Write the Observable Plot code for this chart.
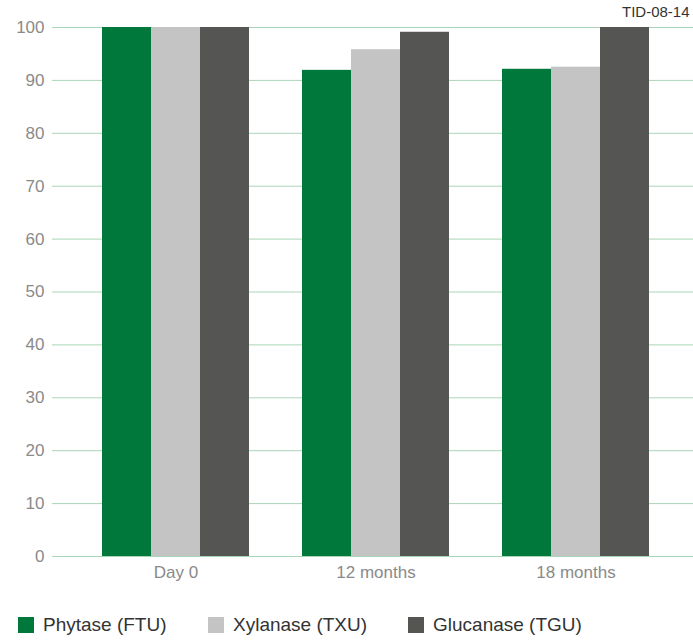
<!DOCTYPE html>
<html>
<head>
<meta charset="utf-8">
<script src="https://cdn.jsdelivr.net/npm/d3@7"></script>
<script src="https://cdn.jsdelivr.net/npm/@observablehq/plot@0.6"></script>
<style>
  html, body { margin: 0; padding: 0; background: #fff; overflow: hidden; }
  #wrap { position: relative; width: 693px; height: 640px; overflow: hidden; font-family: "Liberation Sans", Arial, sans-serif; }
  #tag { position: absolute; left: 622px; top: 3px; font-size: 15px; color: #333; white-space: nowrap; }
  #legend { position: absolute; left: 0; top: 614px; height: 24px; }
  .item { position: absolute; top: 0; display: flex; align-items: center; font-size: 19px; color: #333; white-space: nowrap; }
  .sw { width: 16px; height: 16px; margin-right: 9px; }
</style>
</head>
<body>
<div id="wrap">
  <div id="chart"></div>
  <div id="tag">TID-08-14</div>
  <div id="legend"></div>
</div>
<script>
const categories = ["Day 0", "12 months", "18 months"];
const seriesNames = ["Phytase (FTU)", "Xylanase (TXU)", "Glucanase (TGU)"];
const phytase = [100, 91.9, 92.1];
const xylanase = [100, 95.8, 92.5];
const glucanase = [100, 99.1, 100];
const yTicks = [0, 10, 20, 30, 40, 50, 60, 70, 80, 90, 100];
const colors = ["#00783c", "#c4c4c4", "#555553"];

const seriesValues = [phytase, xylanase, glucanase];
const bandWidth = 147; // resulting band width (px) from scale padding below
const third = bandWidth / 3;
const insets = [
  {insetLeft: 0, insetRight: 2 * third},
  {insetLeft: third, insetRight: third},
  {insetLeft: 2 * third, insetRight: 0}
];

const marks = [
  Plot.ruleY(yTicks, {stroke: "#a9d6b7", strokeWidth: 1})
];
seriesValues.forEach((vals, i) => {
  const rows = categories.map((c, j) => ({category: c, value: vals[j]}));
  marks.push(Plot.barY(rows, {x: "category", y: "value", fill: colors[i], ...insets[i]}));
});

const chart = Plot.plot({
  width: 693,
  height: 590,
  marginLeft: 52,
  marginRight: 0,
  marginTop: 27,
  marginBottom: 34,
  style: {fontFamily: "'Liberation Sans', Arial, sans-serif", background: "#fff"},
  x: {domain: categories, paddingInner: 0.265, paddingOuter: 0.235, align: 0.53, label: null, tickSize: 0, tickPadding: 10},
  y: {domain: [0, 100], ticks: yTicks, label: null, tickSize: 0, tickPadding: 8},
  marks: [
    ...marks,
    Plot.axisX({tickSize: 0, tickPadding: 9, fontSize: 17, fill: "#8a8a8a", label: null}),
    Plot.axisY(yTicks, {tickSize: 0, tickPadding: 8, fontSize: 17, fill: "#8a8a8a", label: null})
  ]
});
document.getElementById("chart").appendChild(chart);

const legend = document.getElementById("legend");
const lefts = [18, 208, 408];
seriesNames.forEach((name, i) => {
  const it = document.createElement("div");
  it.className = "item";
  it.style.left = lefts[i] + "px";
  it.innerHTML = `<span class="sw" style="background:${colors[i]}"></span><span>${name}</span>`;
  legend.appendChild(it);
});
</script>
</body>
</html>
